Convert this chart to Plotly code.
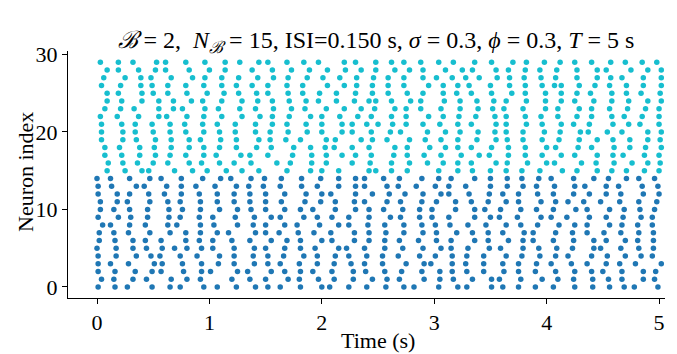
import plotly.graph_objects as go

# Spike times (s) per neuron
neuron_00 = [0.01, 0.16, 0.27, 0.49, 0.65, 0.74, 0.95, 1.07, 1.24, 1.41, 1.52, 1.63, 1.81, 2.00, 2.07, 2.24, 2.40, 2.57, 2.73, 2.82, 3.04, 3.21, 3.29, 3.51, 3.61, 3.75, 3.90, 4.06, 4.25, 4.41, 4.56, 4.69, 4.78, 4.99]
neuron_01 = [0.04, 0.15, 0.32, 0.44, 0.66, 0.80, 0.92, 1.20, 1.36, 1.50, 1.70, 1.80, 1.97, 2.11, 2.28, 2.45, 2.58, 2.69, 2.91, 3.05, 3.17, 3.34, 3.51, 3.58, 3.77, 3.96, 4.10, 4.24, 4.41, 4.55, 4.67, 4.86, 4.96]
neuron_02 = [0.01, 0.16, 0.34, 0.49, 0.57, 0.77, 0.93, 1.01, 1.25, 1.34, 1.55, 1.67, 1.81, 1.92, 2.09, 2.28, 2.39, 2.56, 2.71, 2.89, 3.05, 3.16, 3.29, 3.44, 3.62, 3.75, 3.90, 4.08, 4.25, 4.40, 4.50, 4.67, 4.86, 4.97]
neuron_03 = [0.01, 0.12, 0.28, 0.51, 0.58, 0.76, 0.93, 1.08, 1.22, 1.40, 1.52, 1.63, 1.80, 1.96, 2.11, 2.26, 2.38, 2.54, 2.75, 2.91, 2.97, 3.16, 3.28, 3.44, 3.61, 3.75, 3.91, 4.04, 4.22, 4.36, 4.53, 4.65, 4.79, 5.02]
neuron_04 = [0.01, 0.17, 0.35, 0.48, 0.56, 0.74, 0.89, 1.09, 1.22, 1.39, 1.52, 1.66, 1.84, 1.96, 2.12, 2.24, 2.40, 2.54, 2.68, 2.87, 3.01, 3.16, 3.29, 3.44, 3.64, 3.78, 3.94, 4.08, 4.19, 4.40, 4.54, 4.70, 4.84, 4.94]
neuron_05 = [0.00, 0.17, 0.32, 0.44, 0.58, 0.69, 0.80, 0.93, 1.03, 1.22, 1.40, 1.50, 1.67, 1.81, 1.94, 2.15, 2.22, 2.38, 2.56, 2.72, 2.90, 3.06, 3.15, 3.30, 3.49, 3.59, 3.79, 3.93, 4.09, 4.23, 4.42, 4.48, 4.66, 4.82, 4.95]
neuron_06 = [0.02, 0.16, 0.32, 0.43, 0.57, 0.79, 0.91, 1.03, 1.20, 1.36, 1.55, 1.69, 1.81, 2.00, 2.09, 2.29, 2.42, 2.56, 2.69, 2.86, 3.02, 3.15, 3.36, 3.48, 3.66, 3.79, 3.88, 4.06, 4.24, 4.42, 4.53, 4.70, 4.81, 4.95]
neuron_07 = [0.02, 0.15, 0.28, 0.47, 0.65, 0.79, 0.92, 1.07, 1.17, 1.41, 1.50, 1.62, 1.79, 1.93, 2.08, 2.29, 2.42, 2.57, 2.73, 2.90, 3.02, 3.20, 3.34, 3.48, 3.61, 3.80, 3.88, 4.08, 4.23, 4.36, 4.51, 4.66, 4.82, 4.95]
neuron_08 = [0.05, 0.12, 0.29, 0.43, 0.63, 0.71, 0.92, 1.04, 1.25, 1.39, 1.50, 1.67, 1.78, 1.98, 2.15, 2.24, 2.41, 2.56, 2.73, 2.89, 3.01, 3.14, 3.30, 3.46, 3.64, 3.77, 3.92, 4.11, 4.25, 4.36, 4.56, 4.67, 4.81, 4.94]
neuron_09 = [0.01, 0.19, 0.30, 0.45, 0.64, 0.74, 0.91, 1.03, 1.23, 1.40, 1.55, 1.63, 1.84, 1.96, 2.09, 2.24, 2.42, 2.61, 2.70, 2.87, 2.98, 3.13, 3.36, 3.50, 3.58, 3.74, 3.95, 4.04, 4.18, 4.38, 4.53, 4.68, 4.84, 4.94]
neuron_10 = [0.03, 0.15, 0.29, 0.45, 0.64, 0.76, 0.92, 1.09, 1.25, 1.37, 1.50, 1.67, 1.81, 1.92, 2.12, 2.30, 2.42, 2.55, 2.72, 2.87, 2.98, 3.19, 3.36, 3.45, 3.59, 3.77, 3.91, 4.06, 4.26, 4.36, 4.56, 4.69, 4.83, 4.96]
neuron_11 = [0.03, 0.18, 0.27, 0.47, 0.63, 0.74, 0.92, 1.07, 1.22, 1.36, 1.50, 1.64, 1.85, 1.99, 2.12, 2.29, 2.38, 2.58, 2.70, 2.89, 3.02, 3.19, 3.33, 3.48, 3.64, 3.75, 3.95, 4.08, 4.19, 4.33, 4.48, 4.65, 4.82, 4.98]
neuron_12 = [0.01, 0.18, 0.29, 0.46, 0.60, 0.75, 0.91, 1.07, 1.22, 1.36, 1.50, 1.67, 1.86, 2.00, 2.08, 2.30, 2.45, 2.60, 2.74, 2.90, 3.06, 3.13, 3.31, 3.49, 3.61, 3.75, 3.92, 4.06, 4.24, 4.38, 4.53, 4.66, 4.86, 5.00]
neuron_13 = [0.01, 0.13, 0.35, 0.42, 0.62, 0.75, 0.88, 1.05, 1.24, 1.35, 1.48, 1.63, 1.82, 1.96, 2.15, 2.30, 2.38, 2.58, 2.68, 2.84, 3.01, 3.13, 3.28, 3.50, 3.65, 3.79, 3.91, 4.07, 4.25, 4.34, 4.53, 4.64, 4.85, 4.99]
neuron_14 = [0.00, 0.12, 0.29, 0.47, 0.57, 0.75, 0.94, 1.10, 1.19, 1.37, 1.49, 1.64, 1.82, 1.99, 2.15, 2.30, 2.38, 2.55, 2.69, 2.89, 3.04, 3.15, 3.36, 3.50, 3.65, 3.78, 3.93, 4.04, 4.24, 4.42, 4.55, 4.71, 4.82, 4.96]
neuron_15 = [0.09, 0.25, 0.40, 0.46, 0.69, 0.85, 0.98, 1.15, 1.29, 1.44, 1.69, 1.90, 2.00, 2.15, 2.42, 2.48, 2.62, 2.76, 3.04, 3.21, 3.34, 3.50, 3.64, 3.78, 3.94, 4.14, 4.27, 4.45, 4.58, 4.71, 4.87, 5.00]
neuron_16 = [0.10, 0.23, 0.36, 0.50, 0.63, 0.82, 0.93, 1.09, 1.22, 1.37, 1.60, 1.72, 1.91, 2.04, 2.27, 2.43, 2.62, 2.78, 2.94, 3.08, 3.21, 3.33, 3.55, 3.65, 3.83, 4.00, 4.07, 4.31, 4.44, 4.60, 4.76, 4.90, 5.01]
neuron_17 = [0.07, 0.22, 0.38, 0.52, 0.65, 0.79, 0.95, 1.06, 1.28, 1.36, 1.52, 1.74, 1.91, 2.04, 2.18, 2.30, 2.44, 2.64, 2.76, 2.91, 3.06, 3.24, 3.40, 3.49, 3.66, 3.81, 3.96, 4.13, 4.25, 4.45, 4.59, 4.68, 4.87, 5.00]
neuron_18 = [0.07, 0.20, 0.38, 0.51, 0.66, 0.82, 0.95, 1.09, 1.24, 1.42, 1.55, 1.75, 1.90, 2.03, 2.11, 2.27, 2.42, 2.65, 2.76, 2.96, 3.10, 3.21, 3.33, 3.51, 3.66, 3.81, 4.00, 4.08, 4.28, 4.40, 4.60, 4.74, 4.88, 5.02]
neuron_19 = [0.04, 0.23, 0.35, 0.52, 0.66, 0.82, 0.92, 1.10, 1.24, 1.44, 1.54, 1.68, 1.81, 2.04, 2.12, 2.35, 2.45, 2.58, 2.78, 2.92, 3.06, 3.21, 3.38, 3.55, 3.65, 3.79, 3.96, 4.11, 4.29, 4.45, 4.59, 4.74, 4.90, 5.01]
neuron_20 = [0.04, 0.23, 0.34, 0.50, 0.65, 0.79, 0.95, 1.09, 1.23, 1.41, 1.54, 1.70, 1.87, 2.00, 2.18, 2.27, 2.44, 2.61, 2.70, 2.94, 3.10, 3.23, 3.39, 3.54, 3.64, 3.79, 3.98, 4.12, 4.30, 4.37, 4.54, 4.67, 4.90, 5.02]
neuron_21 = [0.04, 0.22, 0.34, 0.49, 0.65, 0.78, 0.94, 1.07, 1.23, 1.41, 1.56, 1.69, 1.86, 2.00, 2.18, 2.27, 2.40, 2.50, 2.63, 2.75, 2.90, 3.05, 3.21, 3.33, 3.55, 3.64, 3.82, 3.96, 4.13, 4.24, 4.38, 4.59, 4.73, 4.83, 5.00]
neuron_22 = [0.03, 0.18, 0.37, 0.55, 0.62, 0.80, 0.95, 1.11, 1.29, 1.45, 1.56, 1.71, 1.90, 2.00, 2.16, 2.32, 2.44, 2.62, 2.75, 2.95, 3.08, 3.22, 3.37, 3.54, 3.64, 3.81, 3.95, 4.10, 4.27, 4.40, 4.58, 4.69, 4.85, 5.00]
neuron_23 = [0.07, 0.21, 0.33, 0.55, 0.68, 0.76, 0.96, 1.08, 1.27, 1.41, 1.57, 1.73, 1.85, 2.04, 2.20, 2.35, 2.47, 2.65, 2.75, 2.88, 3.06, 3.23, 3.39, 3.52, 3.62, 3.79, 3.99, 4.10, 4.29, 4.40, 4.56, 4.72, 4.88, 5.00]
neuron_24 = [0.09, 0.22, 0.40, 0.55, 0.68, 0.84, 0.94, 1.11, 1.29, 1.43, 1.56, 1.71, 1.86, 1.97, 2.13, 2.29, 2.42, 2.48, 2.62, 2.79, 2.88, 3.09, 3.23, 3.38, 3.53, 3.64, 3.82, 3.99, 4.13, 4.25, 4.42, 4.58, 4.73, 4.90, 5.02]
neuron_25 = [0.09, 0.19, 0.40, 0.50, 0.63, 0.80, 0.98, 1.13, 1.26, 1.42, 1.52, 1.70, 1.83, 1.98, 2.13, 2.30, 2.45, 2.59, 2.76, 2.90, 3.08, 3.20, 3.33, 3.51, 3.69, 3.81, 3.99, 4.13, 4.27, 4.39, 4.58, 4.71, 4.84, 5.01]
neuron_26 = [0.04, 0.21, 0.39, 0.49, 0.63, 0.79, 0.95, 1.11, 1.24, 1.38, 1.52, 1.69, 1.83, 2.05, 2.20, 2.31, 2.45, 2.59, 2.73, 2.95, 3.08, 3.21, 3.31, 3.50, 3.67, 3.81, 3.96, 4.07, 4.13, 4.29, 4.43, 4.56, 4.71, 4.86, 5.02]
neuron_27 = [0.06, 0.25, 0.39, 0.48, 0.66, 0.85, 0.96, 1.11, 1.26, 1.43, 1.57, 1.70, 1.87, 2.01, 2.16, 2.31, 2.46, 2.59, 2.73, 2.90, 3.02, 3.16, 3.28, 3.40, 3.56, 3.67, 3.80, 3.95, 4.08, 4.27, 4.45, 4.57, 4.67, 4.86, 5.02]
neuron_28 = [0.09, 0.19, 0.37, 0.52, 0.61, 0.82, 1.00, 1.14, 1.38, 1.56, 1.73, 1.89, 2.05, 2.21, 2.35, 2.48, 2.65, 2.78, 2.90, 3.10, 3.25, 3.34, 3.55, 3.66, 3.81, 3.94, 4.09, 4.27, 4.45, 4.53, 4.75, 4.90, 5.02]
neuron_29 = [0.03, 0.19, 0.32, 0.53, 0.61, 0.79, 0.96, 1.14, 1.27, 1.44, 1.52, 1.69, 1.84, 1.97, 2.20, 2.30, 2.48, 2.62, 2.73, 2.88, 3.04, 3.17, 3.36, 3.51, 3.70, 3.82, 3.98, 4.12, 4.25, 4.40, 4.57, 4.70, 4.85, 4.98]

group_A = [neuron_00, neuron_01, neuron_02, neuron_03, neuron_04, neuron_05, neuron_06, neuron_07,
           neuron_08, neuron_09, neuron_10, neuron_11, neuron_12, neuron_13, neuron_14]
group_B = [neuron_15, neuron_16, neuron_17, neuron_18, neuron_19, neuron_20, neuron_21, neuron_22,
           neuron_23, neuron_24, neuron_25, neuron_26, neuron_27, neuron_28, neuron_29]

x_ticks = [0, 1, 2, 3, 4, 5]
y_ticks = [0, 10, 20, 30]


def flatten(group, first_index):
    xs, ys = [], []
    for k, times in enumerate(group):
        xs.extend(times)
        ys.extend([first_index + k] * len(times))
    return xs, ys


xa, ya = flatten(group_A, 0)
xb, yb = flatten(group_B, 15)

FONT = "Liberation Serif"
W, H = 677, 354
ML, MR, MT, MB = 68, 12, 51, 56
PW, PH = W - ML - MR, H - MT - MB

fig = go.Figure()
fig.add_trace(go.Scatter(x=xa, y=ya, mode="markers",
                         marker=dict(color="#1f77b4", size=5.5, line=dict(width=0)),
                         showlegend=False))
fig.add_trace(go.Scatter(x=xb, y=yb, mode="markers",
                         marker=dict(color="#17becf", size=5.5, line=dict(width=0)),
                         showlegend=False))

axis_common = dict(
    showline=True, linecolor="black", linewidth=1, mirror=False,
    ticks="outside", ticklen=5, tickwidth=1, tickcolor="black",
    showgrid=False, zeroline=False, automargin=False,
    tickfont=dict(family=FONT, size=22, color="black"),
)

fig.update_layout(
    width=W, height=H,
    margin=dict(l=ML, r=MR, t=MT, b=MB),
    plot_bgcolor="white", paper_bgcolor="white",
    font=dict(family=FONT, size=22, color="black"),
    title=dict(
        text="<i>ℬ</i> = 2,  <i>N</i><sub><i>ℬ</i></sub> = 15, ISI=0.150 s, <i>σ</i> = 0.3, <i>ϕ</i> = 0.3, <i>T</i> = 5 s",
        x=376 / W, xanchor="center", y=1 - 40 / H, yanchor="middle",
        font=dict(family=FONT, size=24, color="black"),
    ),
    xaxis=dict(range=[-0.258, 5.053], tickmode="array", tickvals=x_ticks, **axis_common),
    yaxis=dict(range=[-1.42, 30.45], tickmode="array", tickvals=y_ticks, **axis_common),
    annotations=[
        dict(text="Time (s)", xref="paper", yref="paper",
             x=(378 - ML) / PW, y=-(340 - MT - PH) / PH,
             xanchor="center", yanchor="middle", showarrow=False,
             font=dict(family=FONT, size=22, color="black")),
        dict(text="Neuron index", xref="paper", yref="paper",
             x=(25 - ML) / PW, y=(MT + PH - 172) / PH,
             xanchor="center", yanchor="middle", showarrow=False, textangle=-90,
             font=dict(family=FONT, size=22, color="black")),
    ],
)

fig.write_html("out.html")
